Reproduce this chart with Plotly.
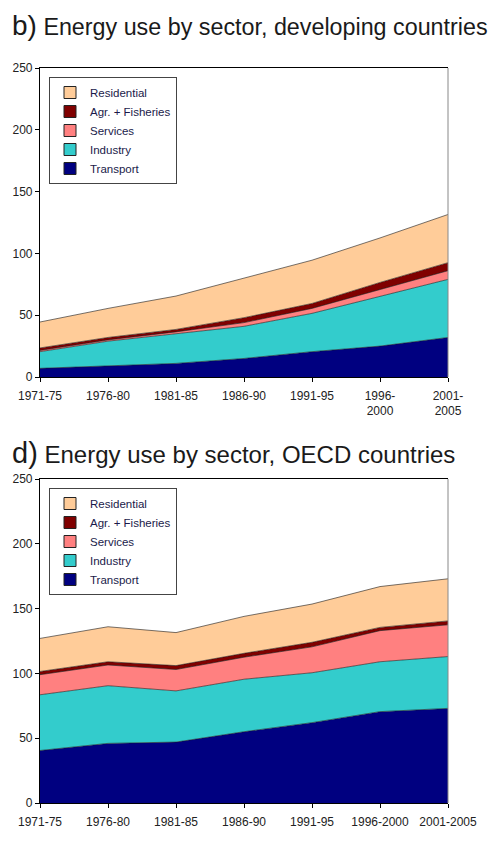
import plotly.graph_objects as go

# Data
periods = ["1971-75", "1976-80", "1981-85", "1986-90", "1991-95", "1996-2000", "2001-2005"]
ticks_top = ["1971-75", "1976-80", "1981-85", "1986-90", "1991-95", "1996-<br>2000", "2001-<br>2005"]
ticks_bottom = periods

sectors = ["Transport", "Industry", "Services", "Agr. + Fisheries", "Residential"]
colors = ["#000080", "#33CCCC", "#FF8080", "#800000", "#FFCC99"]

# b) developing countries
dev_transport = [7, 9, 11, 15, 20.5, 25, 32]
dev_industry = [13.5, 20, 24, 26, 31, 40, 47]
dev_services = [1, 1, 1.5, 3, 4, 6, 7]
dev_agr = [2, 2, 2, 4, 4, 5.5, 6.5]
dev_residential = [21, 23.5, 27, 32, 35, 36, 39]

# d) OECD countries
oecd_transport = [40.5, 46, 47, 55, 62, 70.5, 73]
oecd_industry = [43, 44.5, 39.5, 40.5, 38.5, 38.5, 40]
oecd_services = [15.5, 16, 16.5, 17, 20, 24, 24.5]
oecd_agr = [2.5, 2.5, 3, 3, 3.5, 2.5, 3]
oecd_residential = [25.5, 27, 25.5, 28.5, 29.5, 31.5, 32.5]

dev = [dev_transport, dev_industry, dev_services, dev_agr, dev_residential]
oecd = [oecd_transport, oecd_industry, oecd_services, oecd_agr, oecd_residential]

# page body has an 8px margin, so size the figure to fit and place by page pixels
W, H, OFF = 497, 849, 8
FW, FH = W - OFF, H - OFF
FONT = "Liberation Sans, Arial, sans-serif"


def px(x):
    return (x - OFF) / FW


def py(y):
    return 1 - (y - OFF) / FH


fig = go.Figure()

panels = [("dev", dev, "x", "y", "legend"), ("oecd", oecd, "x2", "y2", "legend2")]
for grp, series, xa, ya, leg in panels:
    for name, col, vals in zip(sectors, colors, series):
        fig.add_trace(go.Scatter(
            x=periods, y=vals, name=name, stackgroup=grp, mode="lines",
            fillcolor=col, line=dict(color="#1a1a1a", width=0.6),
            xaxis=xa, yaxis=ya, showlegend=False,
        ))
    # square legend swatches like the original
    for name, col in zip(sectors, colors):
        fig.add_trace(go.Bar(
            x=[None], y=[None], name=name, marker=dict(color=col, line=dict(color="#222", width=1)),
            xaxis=xa, yaxis=ya, legend=leg,
        ))

xdom = [px(40), px(448)]
ax_common = dict(showline=True, linecolor="black", linewidth=1.2,
                 ticks="outside", ticklen=4, tickcolor="black",
                 showgrid=False, zeroline=False, automargin=False,
                 tickfont=dict(family=FONT, size=12, color="#222"))

legend_common = dict(
    xref="paper", yref="paper", xanchor="left", yanchor="top",
    traceorder="reversed", bgcolor="white", bordercolor="#444", borderwidth=1,
    font=dict(family=FONT, size=11.5, color="#1a1a4a"),
    itemclick=False, tracegroupgap=0, itemwidth=30,
)

fig.update_layout(
    width=FW, height=FH,
    margin=dict(l=0, r=0, t=0, b=0),
    paper_bgcolor="white", plot_bgcolor="white",
    showlegend=True, barmode="stack",
    xaxis=dict(domain=xdom, anchor="y", range=[0, 6], type="category",
               tickvals=periods, ticktext=ticks_top, mirror=True,
               ticklabelstandoff=3, **ax_common),
    yaxis=dict(domain=[py(377), py(68)], anchor="x", range=[0, 250],
               dtick=50, **ax_common),
    xaxis2=dict(domain=xdom, anchor="y2", range=[0, 6], type="category",
                tickvals=periods, ticktext=ticks_bottom, mirror=True,
                ticklabelstandoff=3, **ax_common),
    yaxis2=dict(domain=[py(803), py(479)], anchor="x2", range=[0, 250],
                dtick=50, **ax_common),
    legend=dict(x=px(49), y=py(77), **legend_common),
    legend2=dict(x=px(49), y=py(488), **legend_common),
)

# light right-hand frame edge
for xr, yr in (("x domain", "y domain"), ("x2 domain", "y2 domain")):
    fig.add_shape(type="line", xref=xr, yref=yr, x0=1, x1=1, y0=0, y1=1,
                  line=dict(color="#888", width=1))

titles = [("b)", "Energy use by sector, developing countries", py(25), 23.3, 28),
          ("d)", "Energy use by sector, OECD countries", py(453), 24, 29)]
for tag, txt, yy, fs, fs_tag in titles:
    fig.add_annotation(
        text=f"<span style='font-size:{fs_tag}px'>{tag}</span> {txt}",
        xref="paper", yref="paper", x=px(10), y=yy, xanchor="left", yanchor="middle",
        showarrow=False, font=dict(family=FONT, size=fs, color="#1a1a1a"),
    )

fig.write_html("out.html")
